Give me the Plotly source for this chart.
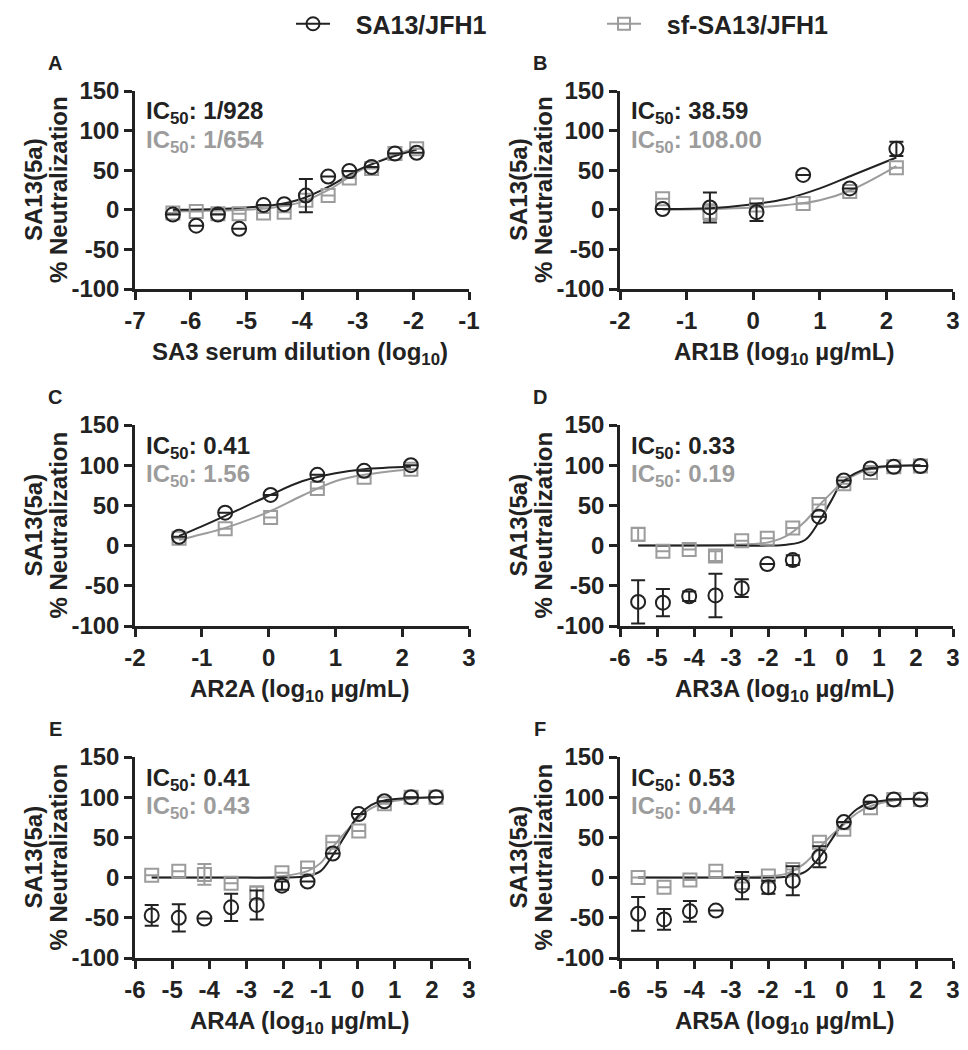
import plotly.graph_objects as go

# ---------------- data ----------------
BLACK = "#222222"
GRAY = "#9c9c9c"

A_x = [-6.32, -5.90, -5.51, -5.13, -4.69, -4.32, -3.93, -3.53, -3.15, -2.75, -2.33, -1.94]
A_circ = [-6, -20, -6, -24, 6, 7, 18, 42, 49, 54, 71, 72]
A_circ_err = [0, 0, 0, 0, 0, 0, 21, 0, 0, 0, 0, 0]
A_sq = [-4, -2, -5, -5, -4, -3, 12, 18, 40, 52, 71, 77]
A_sq_err = [0] * 12
A_fit_x = [-6.32, -5.5, -5.0, -4.5, -4.0, -3.5, -3.0, -2.5, -1.94]
A_fit_black = [0, 1, 3, 6, 14, 30, 50, 64, 76]
A_fit_gray = [-2, -1, 0, 3, 10, 26, 48, 65, 78]

B_x = [-1.36, -0.65, 0.05, 0.75, 1.45, 2.15]
B_circ = [1, 3, -3, 44, 27, 77]
B_circ_err = [0, 19, 11, 0, 0, 9]
B_sq = [14, -3, 6, 8, 23, 53]
B_sq_err = [0, 10, 0, 0, 0, 0]
B_fit_x = [-1.36, -0.65, 0.0, 0.5, 1.0, 1.5, 2.15]
B_fit_black = [1, 2, 7, 14, 27, 44, 66]
B_fit_gray = [0, 1, 3, 6, 12, 26, 55]

C_x = [-1.34, -0.65, 0.03, 0.73, 1.43, 2.13]
C_circ = [11, 41, 63, 88, 93, 100]
C_sq = [9, 21, 35, 71, 85, 95]
C_fit_x = [-1.34, -1.0, -0.65, 0.0, 0.5, 1.0, 1.43, 2.13]
C_fit_black = [12, 24, 37, 62, 80, 90, 95, 98]
C_fit_gray = [7, 14, 22, 42, 62, 80, 88, 95]

D_x = [-5.51, -4.84, -4.13, -3.42, -2.71, -2.02, -1.33, -0.62, 0.05, 0.77, 1.40, 2.12]
D_circ = [-70, -71, -63, -62, -53, -23, -18, 36, 81, 96, 98, 99]
D_circ_err = [27, 17, 6, 27, 11, 0, 6, 0, 0, 0, 0, 0]
D_sq = [14, -7, -5, -13, 6, 9, 22, 51, 77, 91, 98, 99]
D_sq_err = [8, 0, 0, 6, 0, 0, 0, 0, 0, 0, 0, 0]
D_fit_x = [-5.51, -3.0, -2.0, -1.5, -1.0, -0.62, -0.3, 0.0, 0.5, 1.0, 2.12]
D_fit_black = [0, 0, 0, 1, 7, 30, 55, 78, 93, 98, 100]
D_fit_gray = [0, 1, 4, 12, 30, 50, 65, 78, 91, 97, 100]

E_x = [-5.55, -4.82, -4.13, -3.41, -2.72, -2.04, -1.35, -0.67, 0.03, 0.72, 1.44, 2.11]
E_circ = [-47, -50, -51, -37, -34, -10, -5, 30, 79, 95, 100, 100]
E_circ_err = [13, 17, 0, 17, 18, 5, 0, 0, 0, 0, 0, 0]
E_sq = [3, 8, 4, -7, -19, 6, 12, 44, 58, 92, 100, 100]
E_sq_err = [0, 0, 13, 0, 8, 0, 0, 0, 0, 0, 0, 0]
E_fit_x = [-5.55, -3.0, -2.0, -1.35, -1.0, -0.67, -0.3, 0.0, 0.36, 0.72, 1.44, 2.11]
E_fit_black = [0, 0, 0, 2, 8, 28, 55, 76, 90, 96, 99, 100]
E_fit_gray = [0, 0, 2, 8, 18, 38, 58, 73, 86, 93, 98, 100]

F_x = [-5.51, -4.81, -4.11, -3.41, -2.70, -1.99, -1.33, -0.61, 0.05, 0.77, 1.40, 2.12]
F_circ = [-45, -52, -42, -41, -10, -12, -4, 26, 69, 94, 97, 97]
F_circ_err = [21, 13, 13, 0, 17, 8, 18, 13, 0, 0, 0, 0]
F_sq = [0, -12, -3, 8, -6, 2, 10, 44, 60, 87, 97, 97]
F_sq_err = [0] * 12
F_fit_x = [-5.51, -3.0, -2.0, -1.5, -1.0, -0.61, -0.3, 0.0, 0.4, 0.77, 1.4, 2.12]
F_fit_black = [0, 0, 0, 1, 7, 25, 46, 66, 85, 93, 97, 98]
F_fit_gray = [0, 0, 2, 5, 18, 37, 52, 64, 80, 89, 96, 98]

panel_letters = ["A", "B", "C", "D", "E", "F"]
x_titles = [
    "SA3 serum dilution (log<sub>10</sub>)",
    "AR1B (log<sub>10</sub> µg/mL)",
    "AR2A (log<sub>10</sub> µg/mL)",
    "AR3A (log<sub>10</sub> µg/mL)",
    "AR4A (log<sub>10</sub> µg/mL)",
    "AR5A (log<sub>10</sub> µg/mL)",
]
y_title_1 = "SA13(5a)"
y_title_2 = "% Neutralization"
x_ticks = [
    [-7, -6, -5, -4, -3, -2, -1],
    [-2, -1, 0, 1, 2, 3],
    [-2, -1, 0, 1, 2, 3],
    [-6, -5, -4, -3, -2, -1, 0, 1, 2, 3],
    [-6, -5, -4, -3, -2, -1, 0, 1, 2, 3],
    [-6, -5, -4, -3, -2, -1, 0, 1, 2, 3],
]
y_ticks = [-100, -50, 0, 50, 100, 150]
ic50_black = ["1/928", "38.59", "0.41", "0.33", "0.41", "0.53"]
ic50_gray = ["1/654", "108.00", "1.56", "0.19", "0.43", "0.44"]
series_names = ["SA13/JFH1", "sf-SA13/JFH1"]

panels = [
    (A_x, A_circ, A_circ_err, A_sq, A_sq_err, A_fit_x, A_fit_black, A_fit_gray),
    (B_x, B_circ, B_circ_err, B_sq, B_sq_err, B_fit_x, B_fit_black, B_fit_gray),
    (C_x, C_circ, [0] * 6, C_sq, [0] * 6, C_fit_x, C_fit_black, C_fit_gray),
    (D_x, D_circ, D_circ_err, D_sq, D_sq_err, D_fit_x, D_fit_black, D_fit_gray),
    (E_x, E_circ, E_circ_err, E_sq, E_sq_err, E_fit_x, E_fit_black, E_fit_gray),
    (F_x, F_circ, F_circ_err, F_sq, F_sq_err, F_fit_x, F_fit_black, F_fit_gray),
]


def lab(v):
    return str(v)


# ---------------- layout geometry ----------------
W, H = 968, 1050
OFF = 8  # default page body margin
col_px = [(135 - OFF, 469 - OFF), (620 - OFF, 953 - OFF)]
row_px = [(91 - OFF, 289 - OFF), (425 - OFF, 626 - OFF), (757 - OFF, 958 - OFF)]
FONT = "Liberation Sans"
FS = 24
NBSP = "\u00a0\u00a0\u00a0"


def f(size=FS, color=BLACK):
    return dict(family=FONT, size=size, color=color, weight="bold")


fig = go.Figure()
layout = dict(
    width=W, height=H,
    margin=dict(l=0, r=0, t=0, b=0, autoexpand=False),
    plot_bgcolor="white", paper_bgcolor="white",
    font=f(),
    showlegend=True,
    legend=dict(
        orientation="h", xref="container", yref="container",
        x=(291 - OFF) / W, y=1 - 16 / H, xanchor="left", yanchor="middle",
        font=f(25), entrywidth=262, itemwidth=34, tracegroupgap=0,
        bgcolor="rgba(0,0,0,0)",
    ),
)
annotations = []

for i, (xs, circ, circ_err, sq, sq_err, fx, fb, fg) in enumerate(panels):
    r, c = divmod(i, 2)
    ax = "" if i == 0 else str(i + 1)
    xa, ya = "x" + ax, "y" + ax
    x0, x1 = col_px[c]
    yt, yb = row_px[r]
    layout["xaxis" + ax] = dict(
        domain=[x0 / W, x1 / W], anchor=ya, range=[x_ticks[i][0], x_ticks[i][-1]],
        tickmode="array", tickvals=x_ticks[i], ticktext=[lab(v) for v in x_ticks[i]],
        showgrid=False, zeroline=False, showline=True, linewidth=2.5, linecolor=BLACK,
        ticks="outside", ticklen=8, tickwidth=2.5, tickcolor=BLACK,
        tickfont=f(), automargin=False, fixedrange=True,
    )
    layout["yaxis" + ax] = dict(
        domain=[1 - yb / H, 1 - yt / H], anchor=xa, range=[-100, 150],
        tickmode="array", tickvals=y_ticks, ticktext=[lab(v) for v in y_ticks],
        showgrid=False, zeroline=False, showline=True, linewidth=2.5, linecolor=BLACK,
        ticks="outside", ticklen=8, tickwidth=2.5, tickcolor=BLACK,
        tickfont=f(), automargin=False, fixedrange=True,
    )

    # fitted curves
    fig.add_trace(go.Scatter(x=fx, y=fg, mode="lines", line=dict(color=GRAY, width=2, shape="spline"),
                             xaxis=xa, yaxis=ya, showlegend=False, hoverinfo="skip"))
    fig.add_trace(go.Scatter(x=fx, y=fb, mode="lines", line=dict(color=BLACK, width=2, shape="spline"),
                             xaxis=xa, yaxis=ya, showlegend=False, hoverinfo="skip"))
    # data points
    fig.add_trace(go.Scatter(
        x=xs, y=sq, mode="markers", xaxis=xa, yaxis=ya, showlegend=False,
        marker=dict(symbol="square-open", size=13, color=GRAY, line=dict(width=2, color=GRAY)),
        error_y=dict(type="data", array=sq_err, visible=True, color=GRAY, thickness=2, width=7),
        cliponaxis=False,
    ))
    fig.add_trace(go.Scatter(
        x=xs, y=circ, mode="markers", xaxis=xa, yaxis=ya, showlegend=False,
        marker=dict(symbol="circle-open", size=14, color=BLACK, line=dict(width=2, color=BLACK)),
        error_y=dict(type="data", array=circ_err, visible=True, color=BLACK, thickness=2, width=7),
        cliponaxis=False,
    ))

    dx, dy = xa + " domain", ya + " domain"
    # axis titles
    annotations.append(dict(text=x_titles[i], xref=dx, yref=dy, x=0.5, y=0, xshift=-2, yshift=-64,
                            xanchor="center", yanchor="middle", showarrow=False, font=f()))
    annotations.append(dict(text=y_title_1, xref=dx, yref=dy, x=0, y=0.5, xshift=-102,
                            xanchor="center", yanchor="middle", textangle=-90, showarrow=False, font=f()))
    annotations.append(dict(text=y_title_2, xref=dx, yref=dy, x=0, y=0.5, xshift=-77,
                            xanchor="center", yanchor="middle", textangle=-90, showarrow=False, font=f()))
    # panel letter
    annotations.append(dict(text=panel_letters[i], xref=dx, yref=dy,
                            x=0, y=1, xshift=-80, yshift=28, xanchor="center", yanchor="middle",
                            showarrow=False, font=f(20)))
    # IC50 labels
    annotations.append(dict(text="IC<sub>50</sub>: " + ic50_black[i], xref=dx, yref=dy,
                            x=0, y=1, xshift=9, yshift=-22, xanchor="left", yanchor="middle",
                            showarrow=False, font=f()))
    annotations.append(dict(text="IC<sub>50</sub>: " + ic50_gray[i], xref=dx, yref=dy,
                            x=0, y=1, xshift=9, yshift=-50, xanchor="left", yanchor="middle",
                            showarrow=False, font=f(color=GRAY)))

# legend entries (line + marker glyphs)
fig.add_trace(go.Scatter(x=[None], y=[None], mode="lines+markers", name=NBSP + series_names[0],
                         line=dict(color=BLACK, width=2),
                         marker=dict(symbol="circle-open", size=13, color=BLACK, line=dict(width=2, color=BLACK))))
fig.add_trace(go.Scatter(x=[None], y=[None], mode="lines+markers", name=NBSP + series_names[1],
                         line=dict(color=GRAY, width=2),
                         marker=dict(symbol="square-open", size=12, color=GRAY, line=dict(width=2, color=GRAY))))

layout["annotations"] = annotations
fig.update_layout(**layout)
fig.write_html("out.html")
